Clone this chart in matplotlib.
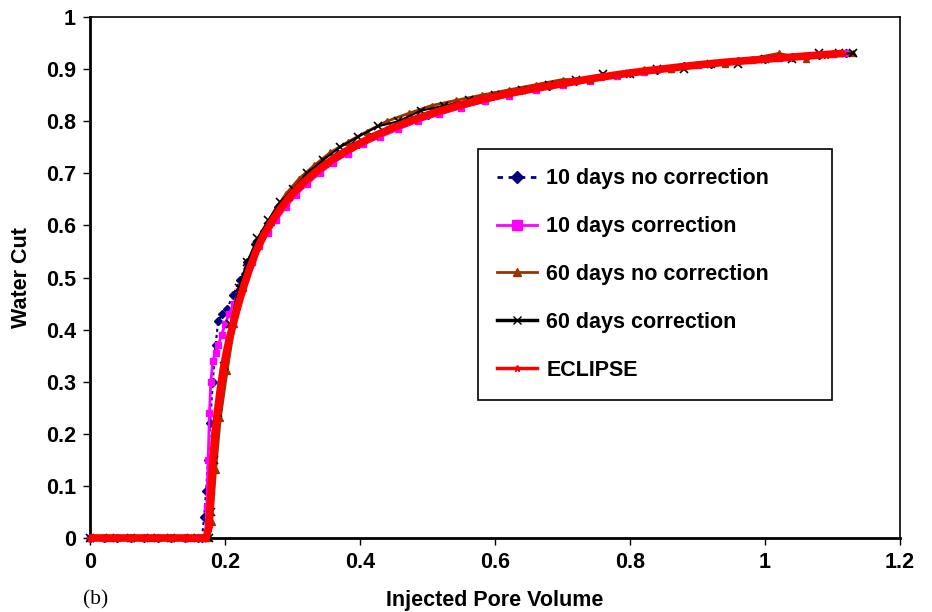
import matplotlib
matplotlib.use("Agg")
import matplotlib.pyplot as plt
from matplotlib.lines import Line2D

plt.rcParams['font.family'] = ['Liberation Sans', 'DejaVu Sans']
plt.rcParams['font.weight'] = 'bold'

# 10 days time step, no correction
pv_10nc = [0.0, 0.02, 0.04, 0.06, 0.08, 0.10, 0.12, 0.14, 0.16, 0.166, 0.169, 0.172, 0.175,
           0.178, 0.182, 0.186, 0.19, 0.196, 0.203, 0.212, 0.222, 0.233, 0.245, 0.258, 0.267,
           0.279, 0.293, 0.308, 0.325, 0.345, 0.367, 0.39, 0.415, 0.44, 0.47, 0.50, 0.53,
           0.56, 0.60, 0.64, 0.68, 0.72, 0.76, 0.80, 0.84, 0.88, 0.92, 0.96, 1.00, 1.04,
           1.08, 1.12]
wc_10nc = [0, 0, 0, 0, 0, 0, 0, 0, 0, 0, 0.04, 0.09, 0.15,
           0.22, 0.30, 0.37, 0.417, 0.43, 0.44, 0.466, 0.495, 0.53, 0.565, 0.59, 0.607,
           0.635, 0.655, 0.675, 0.695, 0.717, 0.737, 0.754, 0.77, 0.784, 0.80, 0.812, 0.825,
           0.836, 0.85, 0.86, 0.868, 0.877, 0.886, 0.893, 0.899, 0.905, 0.91, 0.916, 0.92, 0.923,
           0.927, 0.93]

# 10 days time step, with correction
pv_10c = [0.0, 0.02, 0.04, 0.06, 0.08, 0.10, 0.12, 0.14, 0.16, 0.168, 0.171, 0.173, 0.175,
          0.177, 0.179, 0.182, 0.186, 0.19, 0.195, 0.2, 0.206, 0.213, 0.221, 0.23, 0.24,
          0.251, 0.263, 0.276, 0.29, 0.305, 0.322, 0.34, 0.36, 0.382, 0.405, 0.43, 0.457,
          0.486, 0.517, 0.55, 0.585, 0.62, 0.66, 0.70, 0.74, 0.78, 0.82, 0.86, 0.90, 0.94,
          0.98, 1.02, 1.06, 1.10, 1.12]
wc_10c = [0, 0, 0, 0, 0, 0, 0, 0, 0, 0, 0, 0.06, 0.15,
          0.24, 0.30, 0.34, 0.355, 0.37, 0.39, 0.41, 0.43, 0.45, 0.475, 0.50, 0.53,
          0.56, 0.585, 0.61, 0.635, 0.658, 0.68, 0.70, 0.72, 0.738, 0.756, 0.77, 0.785,
          0.80, 0.813, 0.826, 0.838, 0.849, 0.86, 0.869, 0.878, 0.886, 0.894, 0.90, 0.907, 0.912,
          0.917, 0.922, 0.926, 0.929, 0.93]

# 60 days time step, no correction
pv_60nc = [0.0, 0.03, 0.06, 0.09, 0.12, 0.15, 0.175, 0.18, 0.186, 0.193, 0.203, 0.214, 0.226,
           0.24, 0.255, 0.272, 0.29, 0.31, 0.332, 0.356, 0.382, 0.41, 0.44, 0.472, 0.506,
           0.542, 0.58, 0.62, 0.66, 0.70, 0.74, 0.78, 0.82, 0.86, 0.90, 0.94, 0.98, 1.02,
           1.06, 1.10, 1.13]
wc_60nc = [0, 0, 0, 0, 0, 0, 0, 0.03, 0.13, 0.23, 0.32, 0.41, 0.48,
           0.54, 0.585, 0.625, 0.66, 0.69, 0.715, 0.74, 0.76, 0.78, 0.80, 0.815, 0.83,
           0.84, 0.85, 0.86, 0.87, 0.88, 0.88, 0.89, 0.90, 0.90, 0.91, 0.91, 0.92, 0.93,
           0.92, 0.93, 0.93]

# 60 days time step, with correction
pv_60c = [0.0, 0.03, 0.06, 0.09, 0.12, 0.15, 0.176, 0.179, 0.184, 0.19, 0.198, 0.208, 0.22,
          0.233, 0.248, 0.264, 0.282, 0.301, 0.322, 0.345, 0.37, 0.397, 0.426, 0.457, 0.49,
          0.525, 0.562, 0.60, 0.64, 0.68, 0.72, 0.76, 0.80, 0.84, 0.88, 0.92, 0.96, 1.00,
          1.04, 1.08, 1.11, 1.13]
wc_60c = [0, 0, 0, 0, 0, 0, 0, 0.05, 0.15, 0.24, 0.33, 0.41, 0.48,
          0.53, 0.575, 0.61, 0.645, 0.67, 0.70, 0.725, 0.75, 0.77, 0.79, 0.80, 0.82,
          0.83, 0.84, 0.85, 0.86, 0.87, 0.88, 0.89, 0.89, 0.90, 0.90, 0.91, 0.91, 0.92,
          0.92, 0.93, 0.93, 0.93]

# ECLIPSE reference run
pv_ecl = [0.0, 0.02, 0.04, 0.06, 0.08, 0.10, 0.12, 0.14, 0.16, 0.172, 0.176, 0.179, 0.182,
          0.185, 0.189, 0.193, 0.197, 0.201, 0.206, 0.212, 0.219, 0.227, 0.236, 0.246, 0.257,
          0.269, 0.282, 0.296, 0.312, 0.33, 0.35, 0.372, 0.396, 0.422, 0.45, 0.48, 0.512,
          0.546, 0.582, 0.62, 0.66, 0.70, 0.74, 0.78, 0.82, 0.86, 0.90, 0.94, 0.98, 1.02,
          1.06, 1.09, 1.115]
wc_ecl = [0, 0, 0, 0, 0, 0, 0, 0, 0, 0, 0.02, 0.08, 0.15,
          0.20, 0.245, 0.285, 0.32, 0.35, 0.38, 0.41, 0.445, 0.48, 0.515, 0.55, 0.58,
          0.607, 0.632, 0.655, 0.677, 0.698, 0.718, 0.737, 0.755, 0.772, 0.788, 0.803, 0.817,
          0.83, 0.842, 0.853, 0.863, 0.872, 0.881, 0.889, 0.896, 0.902, 0.908, 0.913, 0.917, 0.921,
          0.925, 0.928, 0.930]

labels = ['10 days no correction', '10 days correction', '60 days no correction',
          '60 days correction', 'ECLIPSE']

navy = '#000080'
magenta = '#FF00FF'
brown = '#993300'
red = '#FF0000'
fs = 15.5

fig = plt.figure(figsize=(9.32, 6.12), dpi=100)
ax = fig.add_axes([90 / 932, 1 - 538 / 612, 810 / 932, 521 / 612])

ax.plot(pv_10nc, wc_10nc, color=navy, lw=1.5, ls=(0, (1.5, 1.5)), marker='D', ms=4,
        clip_on=False, zorder=3)
ax.plot(pv_10c, wc_10c, color=magenta, lw=2, marker='s', ms=5, clip_on=False, zorder=3)
ax.plot(pv_60nc, wc_60nc, color=brown, lw=2, marker='^', ms=5, clip_on=False, zorder=3)
ax.plot(pv_60c, wc_60c, color='black', lw=1.5, marker='x', ms=6, mew=1.2,
        clip_on=False, zorder=3)
ax.plot(pv_ecl, wc_ecl, color=red, lw=5.5, marker='*', ms=5, clip_on=False, zorder=4,
        solid_capstyle='butt')

ax.set_xlim(0, 1.2)
ax.set_ylim(0, 1)
ax.set_xticks([0, 0.2, 0.4, 0.6, 0.8, 1.0, 1.2])
ax.set_xticklabels(['0', '0.2', '0.4', '0.6', '0.8', '1', '1.2'])
ax.set_yticks([i / 10 for i in range(11)])
ax.set_yticklabels(['0', '0.1', '0.2', '0.3', '0.4', '0.5', '0.6', '0.7', '0.8', '0.9', '1'])
ax.tick_params(direction='out', length=5, width=1, labelsize=fs, pad=5)
for s in ax.spines.values():
    s.set_linewidth(1.2)
ax.spines['bottom'].set_linewidth(2)
ax.spines['left'].set_linewidth(2)

ax.set_xlabel('Injected Pore Volume', fontsize=fs, fontweight='bold', labelpad=12)
ax.set_ylabel('Water Cut', fontsize=fs, fontweight='bold', labelpad=10)

handles = [
    Line2D([], [], color=navy, lw=2, ls=(0, (2, 2)), marker='D', ms=6),
    Line2D([], [], color=magenta, lw=2, marker='s', ms=7),
    Line2D([], [], color=brown, lw=2, marker='^', ms=6),
    Line2D([], [], color='black', lw=2.5, marker='x', ms=6, mew=1),
    Line2D([], [], color=red, lw=2.5, marker='*', ms=5),
]
leg = ax.legend(handles, labels, loc='upper left', bbox_to_anchor=(0.479, 0.2, 0.437, 0.547),
                mode='expand', borderaxespad=0, fontsize=fs, numpoints=1,
                handlelength=1.86, handletextpad=0.42, labelspacing=1.25, borderpad=0.9,
                fancybox=False, framealpha=1, edgecolor='black')
leg.get_frame().set_linewidth(1.2)
leg.set_zorder(5)

fig.text(83 / 932, 1 - 600 / 612, '(b)', fontsize=fs, fontweight='normal',
         family=['Liberation Serif', 'DejaVu Serif'], va='center', ha='left')

fig.savefig('out.png', dpi=100)
